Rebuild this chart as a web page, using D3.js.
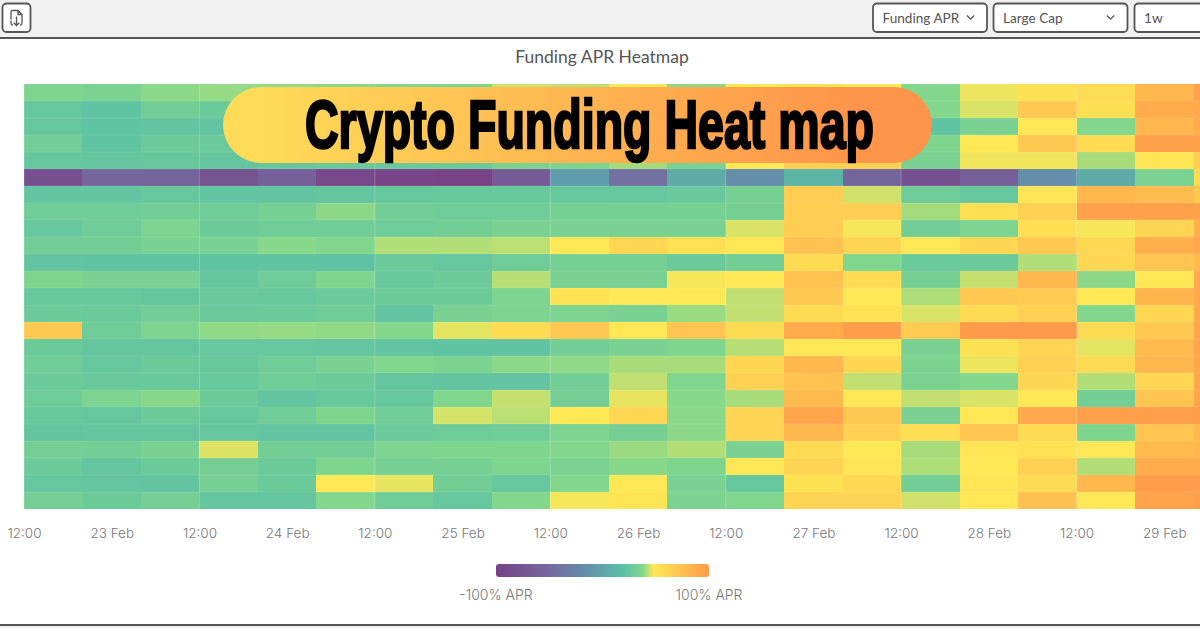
<!DOCTYPE html>
<html><head><meta charset="utf-8">
<script src="https://cdn.jsdelivr.net/npm/d3@7"></script>
<style>
html,body{margin:0;padding:0;background:#fff;overflow:hidden}
svg{display:block}
text{font-family:Lato,sans-serif}
</style></head><body>
<svg id="c" width="1200" height="628"></svg>
<script>
const title = "Funding APR Heatmap";
const banner = "Crypto Funding Heat map";
const controls = ["Funding APR", "Large Cap", "1w"];
const legendLabels = ["-100% APR", "100% APR"];
const tickTimes = ["2024-02-22T12","2024-02-23T00","2024-02-23T12","2024-02-24T00","2024-02-24T12","2024-02-25T00","2024-02-25T12","2024-02-26T00","2024-02-26T12","2024-02-27T00","2024-02-27T12","2024-02-28T00","2024-02-28T12","2024-02-29T00"];
const tickLabels = ["12:00","23 Feb","12:00","24 Feb","12:00","25 Feb","12:00","26 Feb","12:00","27 Feb","12:00","28 Feb","12:00","29 Feb"];
const colorStops = [-100,-60,-30,0,20,46,100];
const colorValues = ["#774084","#756aa0","#6195ac","#5cc1a4","#82d78c","#ffe855","#ff9a4a"];
const legendOffsets = [0,.25,.45,.6,.69,.74,1];
const apr = [
[18,16,22,24,24,22,20,18,36,33,45,22,47,50,47,20,42,50,54,80,95],
[5,2,12,8,6,7,8,9,12,15,18,20,35,55,60,20,38,68,52,88,90],
[5,2,3,3,4,5,4,5,8,12,15,18,38,50,50,2,15,47,20,80,88],
[12,2,9,8,6,7,6,8,10,14,25,15,30,55,55,18,46,68,55,95,95],
[5,4,5,4,6,7,7,8,16,17,27,15,47,65,62,15,43,43,28,48,65],
[-85,-65,-65,-82,-70,-92,-95,-97,-75,-25,-55,-15,-35,-8,-65,-85,-70,-35,-15,16,55],
[3,3,5,3,3,4,5,6,6,6,5,7,14,65,36,10,5,48,80,76,68],
[11,11,12,10,14,22,12,10,10,14,14,14,14,65,65,27,52,62,95,95,95],
[6,10,17,9,11,11,10,12,15,15,15,15,38,65,44,12,17,52,44,60,85],
[12,12,15,15,21,19,30,30,32,47,58,50,47,72,60,47,58,68,57,85,90],
[3,2,2,2,2,1,8,5,10,14,14,8,12,55,19,8,8,30,58,70,78],
[18,15,15,4,10,18,6,9,31,15,15,44,47,72,55,14,34,80,22,46,90],
[6,6,4,7,6,8,9,9,17,50,47,46,33,68,47,29,68,66,46,82,90],
[9,8,12,8,8,11,3,15,17,17,15,25,33,55,50,38,55,62,20,58,90],
[68,10,17,23,24,23,20,40,55,68,47,70,56,88,98,66,100,100,56,68,92],
[8,4,4,5,5,4,3,2,2,12,15,18,31,47,47,15,50,60,40,78,92],
[11,5,8,6,10,15,19,16,22,23,28,28,58,80,58,16,42,62,55,80,92],
[9,7,7,6,11,9,4,3,3,12,33,19,62,72,33,16,20,58,30,58,92],
[10,17,21,9,3,6,5,19,34,13,41,21,28,78,47,33,38,47,12,70,92],
[6,5,9,5,11,18,11,37,32,46,58,22,60,92,68,15,47,90,97,97,97],
[3,4,4,5,3,3,8,10,11,17,14,22,60,80,62,54,70,56,18,70,80],
[13,12,15,39,12,12,17,18,18,20,25,30,15,55,46,28,48,50,47,78,80],
[9,4,9,13,9,18,14,14,18,16,21,18,47,60,48,29,46,62,30,88,88],
[5,4,3,14,8,46,41,12,5,20,46,15,5,50,57,12,48,55,80,98,98],
[13,9,13,4,4,20,11,6,20,44,49,16,19,60,60,36,47,72,46,93,98]
];
const W = 1200, H = 628;
const svg = d3.select("#c");
const parseT = d3.utcParse("%Y-%m-%dT%H");
const start = parseT("2024-02-22T12"), end = parseT("2024-02-29T12");
const x = d3.scaleUtc().domain([start,end]).range([24,1252]);
const y = d3.scaleBand().domain(d3.range(apr.length)).range([84,509]);
const color = d3.scaleLinear().domain(colorStops).range(colorValues).clamp(true);
const colTime = i => d3.utcHour.offset(start, i*8);

// header
svg.append("rect").attr("width",W).attr("height",37).attr("fill","#f0f0f0");
svg.append("rect").attr("y",37).attr("width",W).attr("height",2).attr("fill","#555");
svg.append("rect").attr("y",624).attr("width",W).attr("height",2).attr("fill","#555");
svg.append("rect").attr("y",626).attr("width",W).attr("height",2).attr("fill","#f0f0f0");

const btn = (bx,bw)=>svg.append("rect").attr("x",bx).attr("y",3.5).attr("width",bw).attr("height",28.5).attr("rx",4)
  .attr("fill","#fff").attr("stroke","#555").attr("stroke-width",1.8);
btn(2.5,28);
const ic = svg.append("g").attr("transform","translate(10,10)").attr("fill","none").attr("stroke","#555").attr("stroke-width",1.3).attr("stroke-linecap","round");
ic.append("path").attr("d","M1 9V2Q1 .5 2.5 .5H8L12 4.5V13Q12 15 10.5 15M8 .5V4.5H12");
ic.append("path").attr("d","M1 11V13Q1 15 2.5 15M6.5 7V15.5M4 13L6.5 15.5L9 13");
[[873,114,0,967],[993.5,134,1,1107],[1134.5,80,2,null]].forEach(([bx,bw,i,cx])=>{
  btn(bx,bw);
  svg.append("text").attr("x",bx+9.5).attr("y",22.5).attr("fill","#555").style("font-size","13.6px").text(controls[i]);
  if(cx!==null) svg.append("path").attr("d",`M${cx} 15.5l3.6 3.6l3.6-3.6`).attr("fill","none").attr("stroke","#555").attr("stroke-width",1.3);
});

svg.append("text").attr("x",602).attr("y",62.5).attr("text-anchor","middle").attr("fill","#555").style("font-size","17.5px").text(title);

// cells
apr.forEach((row,r)=>{
  svg.append("g").attr("shape-rendering","crispEdges").selectAll("rect").data(row).join("rect")
    .attr("x",(d,i)=>x(colTime(i)))
    .attr("y",y(r))
    .attr("width",(d,i)=>Math.min(x(colTime(i+1)),W)-x(colTime(i)))
    .attr("height",y.bandwidth())
    .attr("fill",d=>color(d));
});
// row separators
svg.append("g").selectAll("line").data(d3.range(1,apr.length)).join("line")
  .attr("x1",24).attr("x2",W).attr("y1",d=>y(d)).attr("y2",d=>y(d))
  .attr("stroke","#fff").attr("stroke-opacity",.1);

// axis
const ticks = tickTimes.map(parseT);
const axis = d3.axisBottom(x).tickValues(ticks).tickFormat((d,i)=>tickLabels[i]).tickSize(0).tickPadding(0);
const ax = svg.append("g").attr("transform","translate(0,538)").call(axis);
ax.select(".domain").remove();
ax.selectAll("text").attr("y",0).attr("dy",0).attr("fill","#777").style("font-size","13.5px").style("font-family","Inter,sans-serif").style("font-weight","300");

// gridlines at 12:00
svg.append("g").selectAll("line").data(ticks.filter((d,i)=>tickLabels[i]==="12:00")).join("line")
  .attr("x1",d=>x(d)).attr("x2",d=>x(d)).attr("y1",84).attr("y2",509)
  .attr("stroke","#fff").attr("stroke-opacity",.22);

// legend
const defs = svg.append("defs");
const lg = defs.append("linearGradient").attr("id","lg");
lg.selectAll("stop").data(colorValues).join("stop").attr("offset",(d,i)=>legendOffsets[i]).attr("stop-color",d=>d);
const bg = defs.append("linearGradient").attr("id","bg");
bg.append("stop").attr("offset",.05).attr("stop-color","#ffdb58");
bg.append("stop").attr("offset",.9).attr("stop-color","#ff944a");
svg.append("rect").attr("x",496).attr("y",564).attr("width",213).attr("height",13).attr("rx",3).attr("fill","url(#lg)");
svg.append("text").attr("x",496).attr("y",600).attr("text-anchor","middle").attr("fill","#777").style("font-size","14px").style("font-family","Inter,sans-serif").style("font-weight","300").text(legendLabels[0]);
svg.append("text").attr("x",709).attr("y",600).attr("text-anchor","middle").attr("fill","#777").style("font-size","14px").style("font-family","Inter,sans-serif").style("font-weight","300").text(legendLabels[1]);

// banner
svg.append("rect").attr("x",223).attr("y",87).attr("width",709).attr("height",76).attr("rx",38).attr("fill","url(#bg)");
svg.append("text").attr("x",305).attr("y",148).attr("textLength",569).attr("lengthAdjust","spacingAndGlyphs")
  .attr("fill","#000").attr("stroke","#000").attr("stroke-width",2.6).attr("stroke-linejoin","miter")
  .style("font-family","'Liberation Sans Narrow','Liberation Sans',sans-serif").style("font-weight","700").style("font-size","68px").text(banner);
</script>
</body></html>
